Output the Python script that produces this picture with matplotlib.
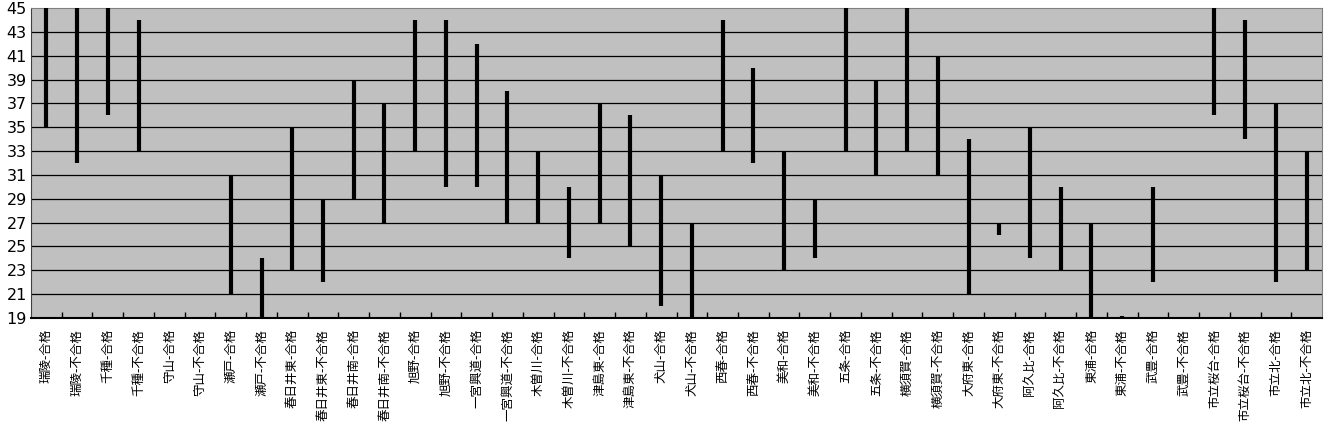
import numpy as np
import matplotlib
matplotlib.use("Agg")
import matplotlib.pyplot as plt

plt.rcParams['font.family'] = ['Noto Sans CJK JP', 'DejaVu Sans']

# categories and score ranges (low, high); nan = no data
labels = ["瑞陵-合格", "瑞陵-不合格", "千種-合格", "千種-不合格", "守山-合格", "守山-不合格",
          "瀬戸-合格", "瀬戸-不合格", "春日井東-合格", "春日井東-不合格", "春日井南-合格", "春日井南-不合格",
          "旭野-合格", "旭野-不合格", "一宮興道-合格", "一宮興道-不合格", "木曽川-合格", "木曽川-不合格",
          "津島東-合格", "津島東-不合格", "犬山-合格", "犬山-不合格", "西春-合格", "西春-不合格",
          "美和-合格", "美和-不合格", "五条-合格", "五条-不合格", "横須賀-合格", "横須賀-不合格",
          "大府東-合格", "大府東-不合格", "阿久比-合格", "阿久比-不合格", "東浦-合格", "東浦-不合格",
          "武豊-合格", "武豊-不合格", "市立桜台-合格", "市立桜台-不合格", "市立北-合格", "市立北-不合格"]
nan = np.nan
low = [35, 32, 36, 33, nan, nan, 21, 19, 23, 22, 29, 27, 33, 30, 30, 27, 27, 24, 27, 25, 20, 19,
       33, 32, 23, 24, 33, 31, 33, 31, 21, 26, 24, 23, 19, 19, 22, nan, 36, 34, 22, 23]
high = [45, 45, 45, 44, nan, nan, 31, 24, 35, 29, 39, 37, 44, 44, 42, 38, 33, 30, 37, 36, 31, 27,
        44, 40, 33, 29, 45, 39, 45, 41, 34, 27, 35, 30, 27, 19.15, 30, nan, 45, 44, 37, 33]

fig = plt.figure(figsize=(13.3, 4.28), dpi=100)
ax = fig.add_axes([31/1330, 1 - 318/428, 1291/1330, 310/428])
ax.set_facecolor('#c0c0c0')

x = np.arange(len(labels))
ax.set_xlim(-0.5, len(labels) - 0.5)
ax.set_ylim(19, 45)
yt = np.arange(19, 46, 2)
ax.set_yticks(yt)
ax.set_yticklabels([str(v) for v in yt], fontsize=11.5, family='DejaVu Sans')
ax.tick_params(axis='y', length=0, pad=3)
for v in yt[1:-1]:
    ax.axhline(v, color='black', lw=0.9, zorder=1)

ax.vlines(x, low, high, colors='black', lw=3, zorder=3)

ax.set_xticks(x)
ax.set_xticklabels(labels, rotation=90, fontsize=9, va='top', ha='center')
ax.set_xticks(np.arange(0.5, len(labels) - 1, 1), minor=True)
ax.tick_params(axis='x', which='major', length=0, pad=8)
ax.tick_params(axis='x', which='minor', direction='in', length=4, width=1, color='black')

for s in ['top', 'right']:
    ax.spines[s].set_color('#808080')
ax.spines['left'].set_color('#404040')
ax.spines['bottom'].set_color('black')
ax.spines['bottom'].set_linewidth(1.5)

fig.savefig('out.png', dpi=100)
